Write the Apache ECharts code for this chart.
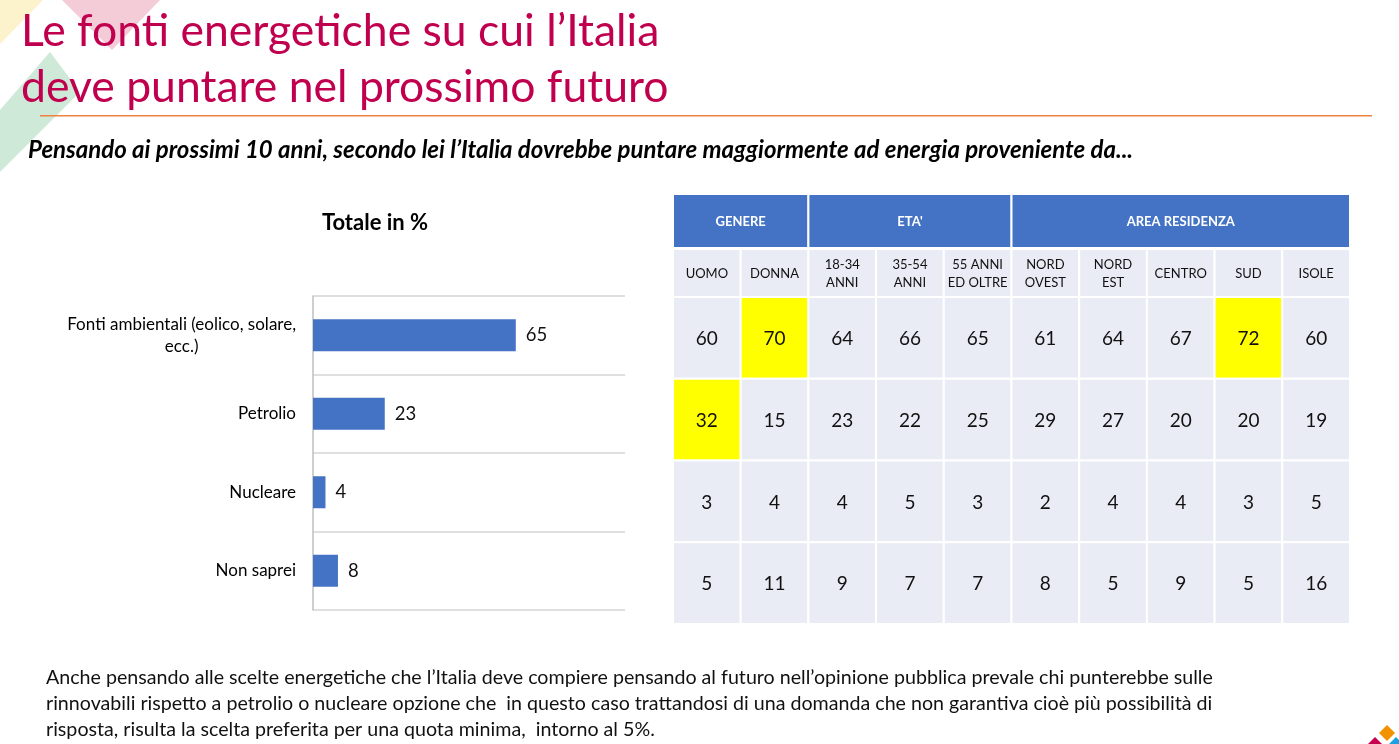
<!DOCTYPE html>
<html>
<head>
<meta charset="utf-8">
<script src="https://cdn.jsdelivr.net/npm/echarts@6/dist/echarts.min.js"></script>
<style>
  html, body { margin: 0; padding: 0; background: #fff; }
  #chart { width: 1399px; height: 744px; }
</style>
</head>
<body>
<div id="chart"></div>
<script>
// totale in %
const fonti = ['Fonti ambientali (eolico, solare,\necc.)', 'Petrolio', 'Nucleare', 'Non saprei'];
const totale = [65, 23, 4, 8];

// tabella per segmento
const colonne = ['UOMO', 'DONNA', '18-34\nANNI', '35-54\nANNI', '55 ANNI\nED OLTRE',
  'NORD\nOVEST', 'NORD\nEST', 'CENTRO', 'SUD', 'ISOLE'];
const gruppi = ['GENERE', "ETA'", 'AREA RESIDENZA'];
const gruppiDa = [0, 2, 5];
const gruppiA = [1, 4, 9];
const ambientali = [60, 70, 64, 66, 65, 61, 64, 67, 72, 60];
const petrolio = [32, 15, 23, 22, 25, 29, 27, 20, 20, 19];
const nucleare = [3, 4, 4, 5, 3, 2, 4, 4, 3, 5];
const nonSaprei = [5, 11, 9, 7, 7, 8, 5, 9, 5, 16];
// celle evidenziate in giallo: [colonna, riga]
const evidenziate = [[1, 0], [8, 0], [0, 1]];

const FONT = 'Lato, "Open Sans", sans-serif';
const righe = [ambientali, petrolio, nucleare, nonSaprei];
const celle = [];
righe.forEach((r, ri) => r.forEach((v, ci) => celle.push([ci, ri, v])));
const isHl = (c, r) => evidenziate.some(e => e[0] === c && e[1] === r);

const myChart = echarts.init(document.getElementById('chart'));

function cella(params, api) {
  const c = api.coord([api.value(0), api.value(1)]);
  const s = api.size([1, 1]);
  const hl = isHl(api.value(0), api.value(1));
  return {
    type: 'group',
    children: [
      { type: 'rect', shape: { x: c[0] - s[0] / 2, y: c[1] - s[1] / 2, width: s[0], height: s[1] },
        style: { fill: hl ? '#FFFF00' : '#E9EBF5', stroke: '#fff', lineWidth: 2 } },
      { type: 'text', style: { text: String(api.value(2)), x: c[0], y: c[1] + 1, align: 'center',
        verticalAlign: 'middle', font: '19px ' + FONT, fill: '#111' } }
    ]
  };
}

function intestazione(params, api) {
  const c = api.coord([api.value(0), 0]);
  const s = api.size([1, 1]);
  return {
    type: 'group',
    children: [
      { type: 'rect', shape: { x: c[0] - s[0] / 2, y: c[1] - s[1] / 2, width: s[0], height: s[1] },
        style: { fill: '#E9EBF5', stroke: '#fff', lineWidth: 2 } },
      { type: 'text', style: { text: colonne[params.dataIndex], x: c[0], y: c[1] + 1, align: 'center',
        verticalAlign: 'middle', font: '13px ' + FONT, fill: '#111', lineHeight: 18 } }
    ]
  };
}

function gruppo(params, api) {
  const a = api.coord([api.value(0), 0]);
  const b = api.coord([api.value(1), 0]);
  const s = api.size([1, 1]);
  const x0 = a[0] - s[0] / 2, x1 = b[0] + s[0] / 2;
  return {
    type: 'group',
    children: [
      { type: 'rect', shape: { x: x0, y: a[1] - s[1] / 2, width: x1 - x0, height: s[1] },
        style: { fill: '#4472C4', stroke: '#fff', lineWidth: 2 } },
      { type: 'text', style: { text: gruppi[params.dataIndex], x: (x0 + x1) / 2, y: a[1] + 1, align: 'center',
        verticalAlign: 'middle', font: 'bold 13px ' + FONT, fill: '#fff' } }
    ]
  };
}

const option = {
  backgroundColor: '#fff',
  animation: false,
  title: [
    {
      text: 'Le fonti energetiche su cui l’Italia\ndeve puntare nel prossimo futuro',
      left: 16, top: -1,
      textStyle: { fontFamily: FONT, fontWeight: 'normal', fontSize: 44.5, color: '#C0004E', lineHeight: 56 }
    },
    {
      text: 'Pensando ai prossimi 10 anni, secondo lei l’Italia dovrebbe puntare maggiormente ad energia proveniente da...',
      left: 23, top: 133,
      textStyle: { fontFamily: FONT, fontWeight: 'bold', fontStyle: 'italic', fontSize: 24, color: '#000' }
    },
    {
      text: 'Totale in %',
      left: 370, top: 207, textAlign: 'center',
      textStyle: { fontFamily: FONT, fontWeight: 'bold', fontSize: 22, color: '#000' }
    },
    {
      text: 'Anche pensando alle scelte energetiche che l’Italia deve compiere pensando al futuro nell’opinione pubblica prevale chi punterebbe sulle\n' +
        'rinnovabili rispetto a petrolio o nucleare opzione che  in questo caso trattandosi di una domanda che non garantiva cioè più possibilità di\n' +
        'risposta, risulta la scelta preferita per una quota minima,  intorno al 5%.',
      left: 41, top: 660,
      textStyle: { fontFamily: FONT, fontWeight: 'normal', fontSize: 19.65, color: '#111', lineHeight: 26 }
    }
  ],
  graphic: [
    { type: 'polygon', shape: { points: [[0, 0], [43, 0], [0, 44]] }, style: { fill: '#FCF3CC' }, z: -1 },
    { type: 'polygon', shape: { points: [[62, 0], [160, 0], [112, 50]] }, style: { fill: '#F4CCD8' }, z: -1 },
    { type: 'polygon', shape: { points: [[50, 52], [80, 92], [0, 172], [0, 110]] }, style: { fill: '#CFE9D8' }, z: -1 },
    { type: 'rect', shape: { x: 40, y: 115, width: 1332, height: 1.5 }, style: { fill: '#EC8440' } },
    { type: 'polygon', shape: { points: [[1387, 725], [1395, 733], [1387, 741], [1379, 733]] }, style: { fill: '#F39200' } },
    { type: 'polygon', shape: { points: [[1375, 737], [1383, 745], [1367, 745]] }, style: { fill: '#C8004E' } },
    { type: 'polygon', shape: { points: [[1396, 737], [1404, 745], [1388, 745]] }, style: { fill: '#1E9FE0' } }
  ],
  grid: [
    { left: 313, top: 296, width: 312, height: 314 },
    { left: 673, top: 194, width: 677, height: 54 },
    { left: 673, top: 249, width: 677, height: 48 },
    { left: 673, top: 297, width: 677, height: 327 }
  ],
  xAxis: [
    { type: 'value', gridIndex: 0, min: 0, max: 100, show: false },
    { type: 'category', gridIndex: 1, data: colonne, show: false },
    { type: 'category', gridIndex: 2, data: colonne, show: false },
    { type: 'category', gridIndex: 3, data: colonne, show: false }
  ],
  yAxis: [
    {
      type: 'category', gridIndex: 0, data: fonti, inverse: true,
      axisLine: { show: true, lineStyle: { color: '#BFBFBF', width: 1.5 } },
      axisTick: { show: false },
      splitLine: { show: true, lineStyle: { color: '#D4D4D4', width: 1.5 } },
      axisLabel: {
        margin: 17, color: '#000', fontFamily: FONT, fontSize: 17, lineHeight: 22,
        formatter: v => v.split('\n').map(l => '{c|' + l + '}').join('\n'),
        rich: { c: { align: 'center', fontFamily: FONT, fontSize: 17, lineHeight: 22, color: '#000' } }
      }
    },
    { type: 'category', gridIndex: 1, data: [''], show: false },
    { type: 'category', gridIndex: 2, data: [''], show: false },
    { type: 'category', gridIndex: 3, data: fonti, inverse: true, show: false }
  ],
  series: [
    {
      type: 'bar', xAxisIndex: 0, yAxisIndex: 0, data: totale, barWidth: 32,
      itemStyle: { color: '#4472C4' },
      label: { show: true, position: 'right', distance: 10, color: '#111', fontFamily: FONT, fontSize: 18.5 }
    },
    {
      type: 'custom', xAxisIndex: 1, yAxisIndex: 1, renderItem: gruppo,
      data: gruppi.map((g, i) => [gruppiDa[i], gruppiA[i]])
    },
    {
      type: 'custom', xAxisIndex: 2, yAxisIndex: 2, renderItem: intestazione,
      data: colonne.map((c, i) => [i, 0])
    },
    {
      type: 'custom', xAxisIndex: 3, yAxisIndex: 3, renderItem: cella,
      data: celle
    }
  ]
};
option && myChart.setOption(option);
</script>
</body>
</html>
